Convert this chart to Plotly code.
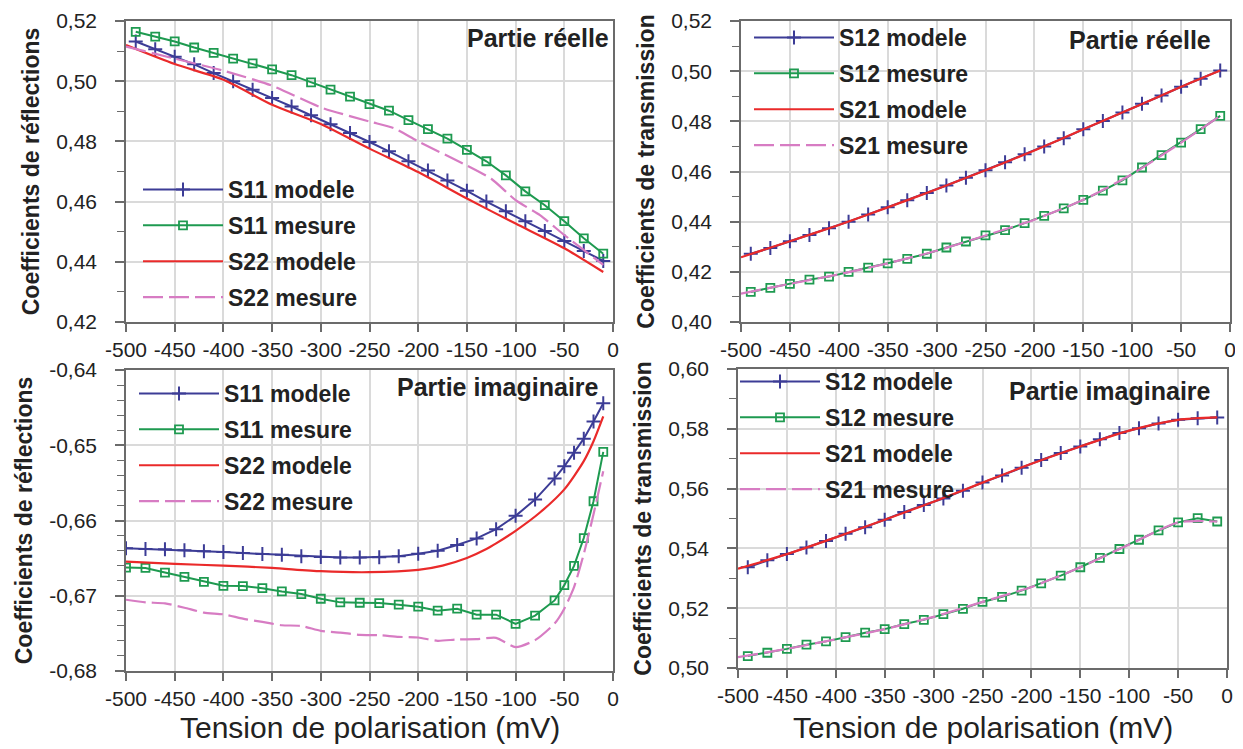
import plotly.graph_objects as go

# ---------------- data ----------------
# x grids (mV)
x_mk = [-490, -470, -450, -430, -410, -390, -370, -350, -330, -310, -290, -270, -250,
        -230, -210, -190, -170, -150, -130, -110, -90, -70, -50, -30, -10]
x_ln = [-500, -450, -400, -350, -300, -250, -200, -150, -100, -50, -10]
x_tl_s22m = [-500, -450, -400, -350, -300, -250, -225, -200, -150, -125, -100, -75, -50, -10]
x_bl = [-500, -480, -460, -440, -420, -400, -380, -360, -340, -320, -300, -280, -260, -240,
        -220, -200, -180, -160, -140, -120, -100, -80, -60, -50, -40, -30, -20, -10]
x_bl_s22mod = [-500, -450, -400, -350, -300, -250, -200, -175, -150, -130, -120, -100, -75, -50,
               -30, -20, -10]

# Top-left : reflection, real part
tl_s11_modele = [0.5132, 0.5106, 0.5081, 0.5056, 0.5027, 0.5000, 0.4972, 0.4944, 0.4916, 0.4887,
                 0.4857, 0.4828, 0.4798, 0.4767, 0.4734, 0.4703, 0.4670, 0.4636, 0.4600, 0.4568,
                 0.4535, 0.4502, 0.4469, 0.4436, 0.4403]
tl_s11_mesure = [0.5164, 0.5148, 0.5132, 0.5112, 0.5094, 0.5075, 0.5059, 0.5039, 0.5020, 0.4996,
                 0.4972, 0.4949, 0.4924, 0.4902, 0.4871, 0.4841, 0.4809, 0.4772, 0.4734, 0.4687,
                 0.4634, 0.4588, 0.4535, 0.4478, 0.4427]
tl_s22_modele = [0.5120, 0.5057, 0.5005, 0.4922, 0.4858, 0.4776, 0.4698, 0.4610, 0.4527, 0.4445, 0.4366]
tl_s22_mesure = [0.5115, 0.5075, 0.5035, 0.4985, 0.4913, 0.4866, 0.4844, 0.4800, 0.4720, 0.4676,
                 0.4605, 0.4555, 0.4489, 0.4390]

# Top-right : transmission, real part
tr_s12_modele = [0.4272, 0.4295, 0.4322, 0.4347, 0.4374, 0.4400, 0.4429, 0.4457, 0.4485, 0.4514,
                 0.4544, 0.4575, 0.4605, 0.4637, 0.4669, 0.4700, 0.4733, 0.4768, 0.4801, 0.4835,
                 0.4870, 0.4903, 0.4938, 0.4970, 0.5003]
tr_s12_mesure = [0.4120, 0.4136, 0.4152, 0.4169, 0.4181, 0.4200, 0.4217, 0.4234, 0.4252, 0.4272,
                 0.4297, 0.4321, 0.4345, 0.4366, 0.4394, 0.4423, 0.4453, 0.4487, 0.4524, 0.4565,
                 0.4616, 0.4665, 0.4715, 0.4769, 0.4822]
tr_s21_modele = [0.4258, 0.4322, 0.4387, 0.4457, 0.4529, 0.4605, 0.4684, 0.4768, 0.4852, 0.4938, 0.5003]
tr_s21_mesure = [0.4113, 0.4152, 0.4190, 0.4234, 0.4284, 0.4345, 0.4408, 0.4487, 0.4590, 0.4715, 0.4822]

# Bottom-left : reflection, imaginary part
bl_s11_modele = [-0.66370, -0.66379, -0.66383, -0.66396, -0.66410, -0.66419, -0.66432, -0.66445,
                 -0.66454, -0.66476, -0.66485, -0.66493, -0.66493, -0.66489, -0.66476, -0.66441,
                 -0.66401, -0.66326, -0.66238, -0.66115, -0.65938, -0.65722, -0.65441, -0.65280,
                 -0.65101, -0.64912, -0.64683, -0.64441]
bl_s11_mesure = [-0.66626, -0.66630, -0.66692, -0.66749, -0.66815, -0.66868, -0.66872, -0.66899,
                 -0.66943, -0.66978, -0.67040, -0.67088, -0.67093, -0.67097, -0.67119, -0.67145,
                 -0.67198, -0.67172, -0.67251, -0.67251, -0.67374, -0.67264, -0.67062, -0.66859,
                 -0.66604, -0.66233, -0.65744, -0.65088]
bl_s22_modele = [-0.66546, -0.66577, -0.66599, -0.66630, -0.66674, -0.66687, -0.66656, -0.66599,
                 -0.66498, -0.66379, -0.66304, -0.66137, -0.65894, -0.65586, -0.65211, -0.64947,
                 -0.64617]
bl_s22_mesure = [-0.67053, -0.67088, -0.67101, -0.67159, -0.67225, -0.67247, -0.67304, -0.67348,
                 -0.67392, -0.67401, -0.67467, -0.67489, -0.67520, -0.67524, -0.67546, -0.67555,
                 -0.67599, -0.67581, -0.67577, -0.67559, -0.67683, -0.67590, -0.67370, -0.67172,
                 -0.66885, -0.66445, -0.65916, -0.65344]

# Bottom-right : transmission, imaginary part
br_s12_modele = [0.5337, 0.5360, 0.5381, 0.5403, 0.5425, 0.5449, 0.5471, 0.5496, 0.5522, 0.5545,
                 0.5567, 0.5593, 0.5620, 0.5644, 0.5670, 0.5696, 0.5719, 0.5741, 0.5765, 0.5786,
                 0.5802, 0.5818, 0.5830, 0.5835, 0.5838]
br_s12_mesure = [0.5040, 0.5051, 0.5064, 0.5078, 0.5089, 0.5103, 0.5118, 0.5130, 0.5147, 0.5161,
                 0.5180, 0.5198, 0.5221, 0.5238, 0.5259, 0.5283, 0.5309, 0.5337, 0.5368, 0.5398,
                 0.5429, 0.5460, 0.5487, 0.5501, 0.5490]
br_s21_modele = [0.5332, 0.5381, 0.5437, 0.5496, 0.5556, 0.5620, 0.5683, 0.5741, 0.5794, 0.5830, 0.5838]
br_s21_mesure = [0.5036, 0.5064, 0.5096, 0.5130, 0.5171, 0.5221, 0.5271, 0.5337, 0.5413, 0.5487, 0.5490]

# tick labels
x_tickvals = [-500, -450, -400, -350, -300, -250, -200, -150, -100, -50, 0]
x_ticktext = ["-500", "-450", "-400", "-350", "-300", "-250", "-200", "-150", "-100", "-50", "0"]
tl_tickvals = [0.42, 0.44, 0.46, 0.48, 0.50, 0.52]
tl_ticktext = ["0,42", "0,44", "0,46", "0,48", "0,50", "0,52"]
tr_tickvals = [0.40, 0.42, 0.44, 0.46, 0.48, 0.50, 0.52]
tr_ticktext = ["0,40", "0,42", "0,44", "0,46", "0,48", "0,50", "0,52"]
bl_tickvals = [-0.68, -0.67, -0.66, -0.65, -0.64]
bl_ticktext = ["-0,68", "-0,67", "-0,66", "-0,65", "-0,64"]
br_tickvals = [0.50, 0.52, 0.54, 0.56, 0.58, 0.60]
br_ticktext = ["0,50", "0,52", "0,54", "0,56", "0,58", "0,60"]

# ---------------- style ----------------
PAGE_W, PAGE_H = 1243, 749
OFF = 8  # default body margin of the html page
W, H = PAGE_W - OFF, PAGE_H - OFF
BLUE = "#3c3c96"
GREEN = "#1e9a50"
RED = "#ea2a2a"
PINK = "#d77cc3"
FONT = "Liberation Sans, Arial, sans-serif"
GRID = "#dadada"
FRAME = "#6b6b6b"


def fx(px):  # page pixel -> paper x
    return (px - OFF) / W


def fy(py):  # page pixel -> paper y
    return 1 - (py - OFF) / H


def px_x(a, b):
    return [fx(a), fx(b)]


def px_y(top, bottom):
    return [fy(bottom), fy(top)]


fig = go.Figure()


def add_marker_trace(x, y, name, kind, xa, ya, legend):
    if kind == "plus":
        marker = dict(symbol="cross-thin", size=10, color=BLUE, line=dict(width=2, color=BLUE))
        color = BLUE
    else:
        marker = dict(symbol="square-open", size=8, color=GREEN, line=dict(width=1.8, color=GREEN))
        color = GREEN
    fig.add_trace(go.Scatter(x=x, y=y, name=name, mode="lines+markers",
                             line=dict(color=color, width=2), marker=marker,
                             xaxis=xa, yaxis=ya, legend=legend, legendgroup=legend + name))


def add_line_trace(x, y, name, kind, xa, ya, legend):
    if kind == "solid":
        line = dict(color=RED, width=2.2, shape="spline", smoothing=0.7)
    else:
        line = dict(color=PINK, width=2.2, dash="20px,6px", shape="spline", smoothing=0.6)
    fig.add_trace(go.Scatter(x=x, y=y, name=name, mode="lines", line=line,
                             xaxis=xa, yaxis=ya, legend=legend, legendgroup=legend + name))


# top-left
add_marker_trace(x_mk, tl_s11_modele, "S11 modele", "plus", "x", "y", "legend")
add_marker_trace(x_mk, tl_s11_mesure, "S11 mesure", "square", "x", "y", "legend")
add_line_trace(x_ln, tl_s22_modele, "S22 modele", "solid", "x", "y", "legend")
add_line_trace(x_tl_s22m, tl_s22_mesure, "S22 mesure", "dash", "x", "y", "legend")
# top-right
add_marker_trace(x_mk, tr_s12_modele, "S12 modele", "plus", "x2", "y2", "legend2")
add_marker_trace(x_mk, tr_s12_mesure, "S12 mesure", "square", "x2", "y2", "legend2")
add_line_trace(x_ln, tr_s21_modele, "S21 modele", "solid", "x2", "y2", "legend2")
add_line_trace(x_ln, tr_s21_mesure, "S21 mesure", "dash", "x2", "y2", "legend2")
# bottom-left
add_marker_trace(x_bl, bl_s11_modele, "S11 modele", "plus", "x3", "y3", "legend3")
add_marker_trace(x_bl, bl_s11_mesure, "S11 mesure", "square", "x3", "y3", "legend3")
add_line_trace(x_bl_s22mod, bl_s22_modele, "S22 modele", "solid", "x3", "y3", "legend3")
add_line_trace(x_bl, bl_s22_mesure, "S22 mesure", "dash", "x3", "y3", "legend3")
# bottom-right
add_marker_trace(x_mk, br_s12_modele, "S12 modele", "plus", "x4", "y4", "legend4")
add_marker_trace(x_mk, br_s12_mesure, "S12 mesure", "square", "x4", "y4", "legend4")
add_line_trace(x_ln, br_s21_modele, "S21 modele", "solid", "x4", "y4", "legend4")
add_line_trace(x_ln, br_s21_mesure, "S21 mesure", "dash", "x4", "y4", "legend4")


def xaxis(domain, anchor):
    return dict(domain=domain, anchor=anchor, range=[-500, 0], tickmode="array", automargin=False,
                tickvals=x_tickvals, ticktext=x_ticktext, showgrid=True, gridcolor=GRID, gridwidth=1.5,
                zeroline=False, showline=True, linecolor=FRAME, linewidth=1.5, mirror=True,
                ticks="outside", ticklen=8, tickcolor=FRAME, tickwidth=1.5, ticklabelstandoff=0,
                ticklabeloverflow="allow",
                tickfont=dict(family=FONT, size=21, color="#222"))


def yaxis(domain, anchor, rng, tv, tt, minor_dtick, title):
    return dict(domain=domain, anchor=anchor, range=rng, tickmode="array", tickvals=tv, ticktext=tt,
                automargin=False, ticklabeloverflow="allow",
                showgrid=True, gridcolor=GRID, gridwidth=1.5, zeroline=False,
                showline=True, linecolor=FRAME, linewidth=1.5, mirror=True,
                ticks="outside", ticklen=9, tickcolor=FRAME, tickwidth=1.5,
                ticklabelstandoff=14,
                minor=dict(tickmode="linear", tick0=0, dtick=minor_dtick, ticks="outside",
                           ticklen=7, tickcolor=FRAME, tickwidth=1.2, showgrid=False),
                tickfont=dict(family=FONT, size=21, color="#222"),
                title=dict(text=title, font=dict(family=FONT, size=23, color="#222", weight="bold"),
                           standoff=10))


REFL = "<b>Coefficients de réflections</b>"
TRANS = "<b>Coefficients de transmission</b>"
XT = "Tension de polarisation (mV)"

legend_common = dict(font=dict(family=FONT, size=23, color="#222", weight="bold"),
                     bgcolor="rgba(0,0,0,0)", borderwidth=0, itemwidth=80,
                     tracegroupgap=3, xanchor="left", yanchor="top", traceorder="grouped")

fig.update_layout(
    width=W, height=H, margin=dict(l=0, r=0, t=0, b=0, autoexpand=False),
    paper_bgcolor="white", plot_bgcolor="white", showlegend=True,
    xaxis=xaxis(px_x(126, 613), "y"),
    yaxis=yaxis(px_y(21, 322), "x", [0.42, 0.52], tl_tickvals, tl_ticktext, 0.01, REFL),
    xaxis2=xaxis(px_x(741, 1230), "y2"),
    yaxis2=yaxis(px_y(21, 322), "x2", [0.40, 0.52], tr_tickvals, tr_ticktext, 0.01, TRANS),
    xaxis3=xaxis(px_x(126, 613), "y3"),
    yaxis3=yaxis(px_y(370, 671), "x3", [-0.68, -0.64], bl_tickvals, bl_ticktext, 0.002, REFL),
    xaxis4=xaxis(px_x(738, 1227), "y4"),
    yaxis4=yaxis(px_y(369, 668), "x4", [0.50, 0.60], br_tickvals, br_ticktext, 0.01, TRANS),
    legend=dict(x=fx(138), y=fy(168), **legend_common),
    legend2=dict(x=fx(749), y=fy(16), **legend_common),
    legend3=dict(x=fx(134), y=fy(372), **legend_common),
    legend4=dict(x=fx(735), y=fy(360), **legend_common),
)

ann_font = dict(family=FONT, size=25, color="#222")
for txt, xr, yc in [("<b>Partie réelle</b>", 611, 38), ("<b>Partie réelle</b>", 1213, 40),
                    ("<b>Partie imaginaire</b>", 601, 387), ("<b>Partie imaginaire</b>", 1213, 391)]:
    fig.add_annotation(text=txt, xref="paper", yref="paper", x=fx(xr), y=fy(yc),
                       xanchor="right", yanchor="middle", showarrow=False, font=ann_font)

# x-axis titles (bottom row only)
for xc in [(126 + 613) / 2, (738 + 1227) / 2]:
    fig.add_annotation(text=XT, xref="paper", yref="paper", x=fx(xc), y=fy(727),
                       xanchor="center", yanchor="middle", showarrow=False,
                       font=dict(family=FONT, size=30, color="#222"))

fig.write_html("out.html")
